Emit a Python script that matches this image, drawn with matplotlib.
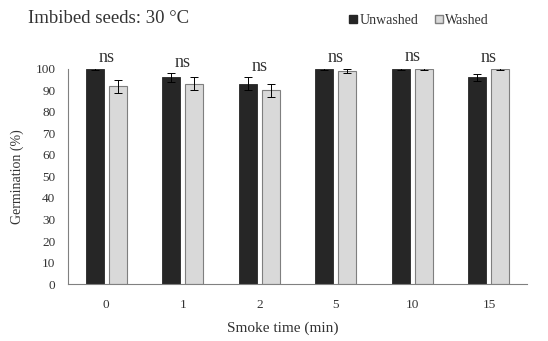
import numpy as np
import matplotlib.pyplot as plt
from matplotlib.patches import Patch

plt.rcParams['font.family'] = ['Liberation Serif', 'DejaVu Serif']

# Germination data (%), mean and error per smoke time
smoke_time = ['0', '1', '2', '5', '10', '15']
unwashed = [100, 96, 93, 100, 100, 96]
unwashed_err = [0.5, 2, 3, 0.3, 0.3, 1.5]
washed = [92, 93, 90, 99, 100, 100]
washed_err = [3, 3, 3, 1, 0.7, 0.5]
sig = ['ns'] * 6

fig = plt.figure(figsize=(5.48, 3.41), dpi=100)
ax = fig.add_axes([0.124, 0.167, 0.838, 0.631])

x = np.arange(len(smoke_time))
w = 0.235
ax.bar(x - 0.15, unwashed, w, color='#262626', edgecolor='#262626', linewidth=0.6,
       yerr=unwashed_err, capsize=3, error_kw=dict(ecolor='black', elinewidth=0.7, capthick=0.7))
ax.bar(x + 0.15, washed, w, color='#d9d9d9', edgecolor='#7f7f7f', linewidth=0.8,
       yerr=washed_err, capsize=3, error_kw=dict(ecolor='black', elinewidth=0.7, capthick=0.7))

# significance labels above each pair
for i in x:
    top = max(unwashed[i] + unwashed_err[i], washed[i] + washed_err[i])
    ax.text(i, top + 5, sig[i], ha='center', va='center', fontsize=13, color='#333333')

ax.set_xlim(-0.5, len(x) - 0.5)
ax.set_ylim(0, 100)
ax.set_yticks(range(0, 101, 10))
ax.set_xticks(x)
ax.set_xticklabels(smoke_time)
ax.tick_params(axis='y', length=0, labelsize=9.5, colors='#333333', pad=9)
ax.tick_params(axis='x', length=0, labelsize=9.5, colors='#333333', pad=11)
ax.spines['top'].set_visible(False)
ax.spines['right'].set_visible(False)
ax.spines['left'].set_color('#808080')
ax.spines['bottom'].set_color('#808080')
ax.set_xlabel('Smoke time (min)', fontsize=11, color='#333333', labelpad=6)
ax.xaxis.set_label_coords(0.468, -0.175)
ax.set_ylabel('Germination (%)', fontsize=10, color='#333333', labelpad=8)

fig.text(0.051, 0.945, 'Imbibed seeds: 30 °C', fontsize=13.5, color='#333333', va='center')

handles = [Patch(facecolor='#262626', edgecolor='#262626'),
           Patch(facecolor='#d9d9d9', edgecolor='#7f7f7f')]
fig.legend(handles, ['Unwashed', 'Washed'], loc='center right', bbox_to_anchor=(0.915, 0.94),
           ncol=2, frameon=False, fontsize=10, handlelength=0.6, handleheight=0.6,
           handletextpad=0.15, columnspacing=1.2, labelcolor='#333333')

fig.savefig('out.png', dpi=100)
